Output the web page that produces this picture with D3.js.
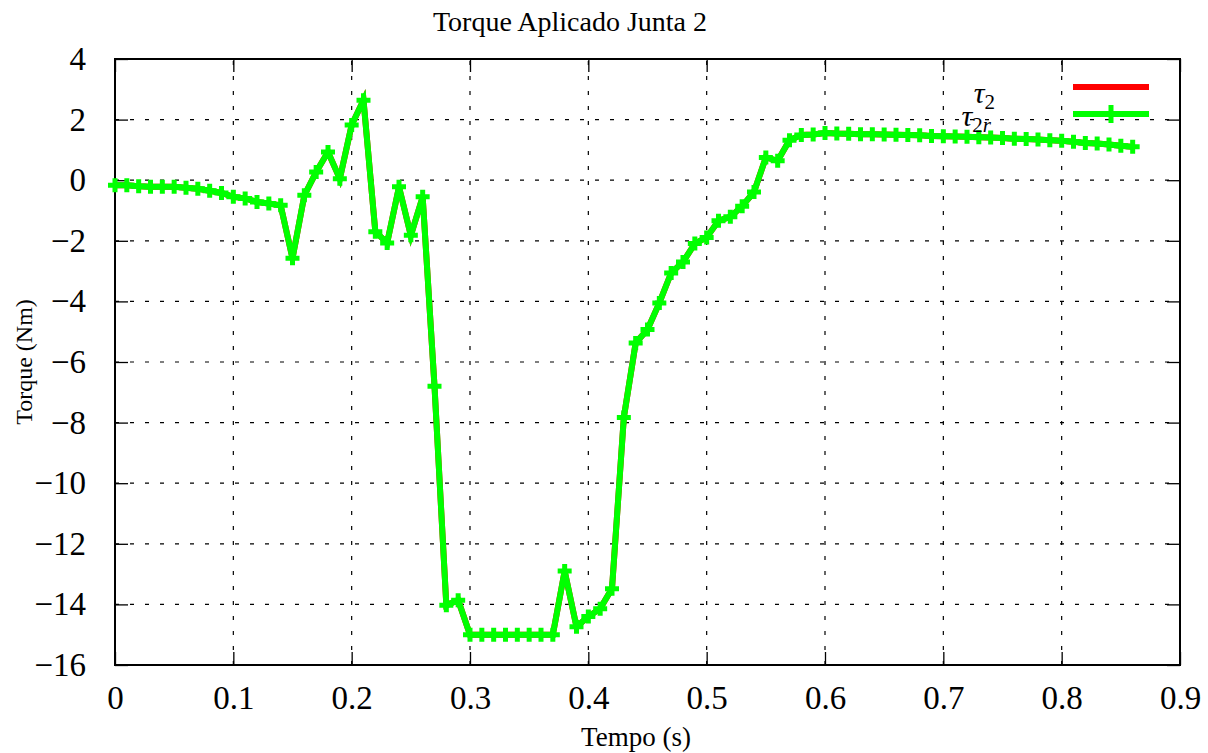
<!DOCTYPE html>
<html>
<head>
<meta charset="utf-8">
<script src="https://cdn.jsdelivr.net/npm/d3@7"></script>
<style>
  html, body { margin: 0; padding: 0; background: #fff; }
  svg { display: block; }
  text { font-family: "Liberation Serif", "DejaVu Serif", serif; fill: #000; }
</style>
</head>
<body>
<svg id="chart" width="1208" height="753"></svg>
<script>
// ---- data ----
const time = [0.00,0.01,0.02,0.03,0.04,0.05,0.06,0.07,0.08,0.09,
  0.10,0.11,0.12,0.13,0.14,0.15,0.16,0.17,0.18,0.19,
  0.20,0.21,0.22,0.23,0.24,0.25,0.26,0.27,0.28,0.29,
  0.30,0.31,0.32,0.33,0.34,0.35,0.36,0.37,0.38,0.39,
  0.40,0.41,0.42,0.43,0.44,0.45,0.46,0.47,0.48,0.49,
  0.50,0.51,0.52,0.53,0.54,0.55,0.56,0.57,0.58,0.59,
  0.60,0.61,0.62,0.63,0.64,0.65,0.66,0.67,0.68,0.69,
  0.70,0.71,0.72,0.73,0.74,0.75,0.76,0.77,0.78,0.79,
  0.80,0.81,0.82,0.83,0.84,0.85,0.86];
const tau2r = [-0.17,-0.17,-0.20,-0.22,-0.22,-0.22,-0.25,-0.28,-0.35,-0.42,
  -0.55,-0.60,-0.72,-0.77,-0.83,-2.58,-0.50,0.27,0.93,0.05,
  1.82,2.64,-1.70,-2.07,-0.22,-1.82,-0.55,-6.80,-14.03,-13.86,
  -15.0,-15.0,-15.0,-15.0,-15.0,-15.0,-15.0,-15.0,-12.90,-14.74,
  -14.40,-14.14,-13.48,-7.83,-5.37,-4.93,-4.05,-3.06,-2.70,-2.09,
  -1.89,-1.34,-1.21,-0.86,-0.39,0.75,0.64,1.32,1.49,1.51,
  1.56,1.54,1.53,1.52,1.52,1.51,1.50,1.49,1.48,1.46,
  1.45,1.44,1.43,1.42,1.41,1.39,1.37,1.36,1.34,1.32,
  1.30,1.27,1.23,1.21,1.18,1.14,1.10];
const tau2 = tau2r.slice();
const xTicks = [0,0.1,0.2,0.3,0.4,0.5,0.6,0.7,0.8,0.9];
const yTicks = [4,2,0,-2,-4,-6,-8,-10,-12,-14,-16];
const titleText = "Torque Aplicado Junta 2";
const xLabel = "Tempo (s)";
const yLabel = "Torque (Nm)";

// ---- layout ----
const L = 115, R = 1180, T = 59, B = 665;
const svg = d3.select("#chart");
const x = d3.scaleLinear().domain([0, 0.9]).range([L, R]);
const y = d3.scaleLinear().domain([-16, 4]).range([B, T]);
const tickLen = 13;

// grid
const grid = svg.append("g").attr("stroke", "#000").attr("stroke-width", 1.2)
  .attr("stroke-dasharray", "4,11");
xTicks.filter(d => d > 0 && d < 0.9).forEach(d => {
  grid.append("line").attr("x1", x(d)).attr("x2", x(d)).attr("y1", B).attr("y2", T);
});
yTicks.filter(d => d > -16 && d < 4).forEach(d => {
  grid.append("line").attr("x1", L).attr("x2", R).attr("y1", y(d)).attr("y2", y(d));
});

// axes (inward ticks, mirrored)
const fmtX = d => d === 0 ? "0" : d3.format(".1f")(d);
const fmtY = d => d3.format("d")(d);
const axB = d3.axisBottom(x).tickValues(xTicks).tickSize(-tickLen).tickPadding(tickLen + 8).tickFormat(fmtX);
const axT = d3.axisTop(x).tickValues(xTicks).tickSize(-tickLen).tickFormat("");
const axL = d3.axisLeft(y).tickValues(yTicks).tickSize(-tickLen).tickPadding(tickLen + 16).tickFormat(fmtY);
const axR = d3.axisRight(y).tickValues(yTicks).tickSize(-tickLen).tickFormat("");

function styleAxis(g) {
  g.select(".domain").remove();
  g.selectAll("line").attr("stroke", "#000").attr("stroke-width", 1.3);
  g.selectAll("text").attr("font-family", "Liberation Serif").attr("font-size", 33).attr("fill", "#000");
}
svg.append("g").attr("transform", `translate(0,${B})`).call(axB).call(styleAxis);
svg.append("g").attr("transform", `translate(0,${T})`).call(axT).call(styleAxis);
svg.append("g").attr("transform", `translate(${L},0)`).call(axL).call(styleAxis);
svg.append("g").attr("transform", `translate(${R},0)`).call(axR).call(styleAxis);

// border
svg.append("rect").attr("x", L).attr("y", T).attr("width", R - L).attr("height", B - T)
  .attr("fill", "none").attr("stroke", "#000").attr("stroke-width", 2);

// series
const pts = (arr) => time.map((t, i) => [t, arr[i]]);
const line = d3.line().x(d => x(d[0])).y(d => y(d[1]));
svg.append("path").datum(pts(tau2)).attr("d", line)
  .attr("fill", "none").attr("stroke", "#ff0000").attr("stroke-width", 6).attr("stroke-linejoin", "miter");
svg.append("path").datum(pts(tau2r)).attr("d", line)
  .attr("fill", "none").attr("stroke", "#00ff00").attr("stroke-width", 6).attr("stroke-linejoin", "miter");
const plus = "M-7,0H7M0,-7V7";
svg.append("g").selectAll("path.mk").data(pts(tau2r)).join("path")
  .attr("class", "mk")
  .attr("transform", d => `translate(${x(d[0])},${y(d[1])})`)
  .attr("d", plus).attr("stroke", "#00ff00").attr("stroke-width", 5).attr("fill", "none");

// legend
const leg = svg.append("g");
const lt1 = leg.append("text").attr("x", 995).attr("y", 103).attr("text-anchor", "end")
  .attr("font-size", 30).attr("font-style", "italic");
lt1.append("tspan").text("τ");
lt1.append("tspan").attr("dy", 6).attr("font-size", 21).attr("font-style", "normal").text("2");
leg.append("line").attr("x1", 1073).attr("x2", 1149).attr("y1", 87).attr("y2", 87)
  .attr("stroke", "#ff0000").attr("stroke-width", 6);
const lt2 = leg.append("text").attr("x", 991).attr("y", 126).attr("text-anchor", "end")
  .attr("font-size", 30).attr("font-style", "italic");
lt2.append("tspan").text("τ");
lt2.append("tspan").attr("dy", 6).attr("font-size", 21).attr("font-style", "normal").text("2");
lt2.append("tspan").attr("font-size", 21).text("r");
leg.append("line").attr("x1", 1073).attr("x2", 1149).attr("y1", 114).attr("y2", 114)
  .attr("stroke", "#00ff00").attr("stroke-width", 6);
leg.append("path").attr("transform", `translate(1111,114)`).attr("d", "M0,-9V9")
  .attr("stroke", "#00ff00").attr("stroke-width", 5);

// titles
svg.append("text").attr("x", 570).attr("y", 31).attr("text-anchor", "middle")
  .attr("font-size", 28).text(titleText);
svg.append("text").attr("x", 636).attr("y", 746).attr("text-anchor", "middle")
  .attr("font-size", 27).text(xLabel);
svg.append("text").attr("transform", "translate(32,362) rotate(-90)").attr("text-anchor", "middle")
  .attr("font-size", 24).text(yLabel);
</script>
</body>
</html>
